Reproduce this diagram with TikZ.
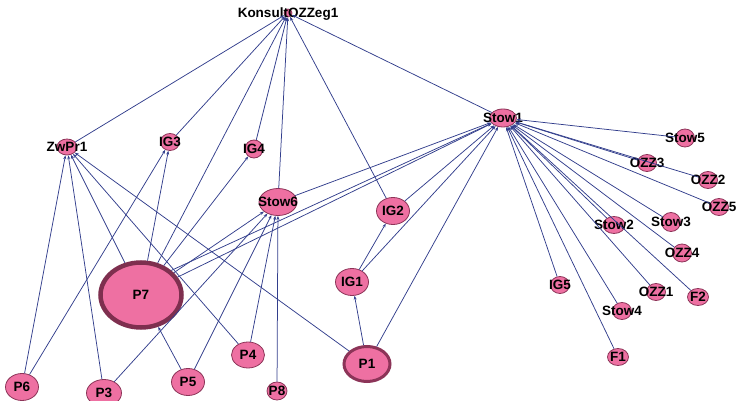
\documentclass[tikz,border=0pt]{standalone}
\usepackage{fontspec}
\setmainfont{Liberation Sans}
\usetikzlibrary{shapes,arrows.meta}
\definecolor{nodepink}{RGB}{238,112,162}
\definecolor{nodeedge}{RGB}{140,52,88}
\definecolor{linkblue}{RGB}{50,62,140}
\newcommand{\lab}[1]{\smash{\makebox[0pt]{\raisebox{-0.36em}{#1}}}}

\begin{document}
\begin{tikzpicture}[
      x=1pt,y=-1pt,
      font=\bfseries\fontsize{13.5}{13.5}\selectfont,
      vert/.style = {ellipse,draw=nodeedge,fill=nodepink,inner sep=0pt,line width=0.8pt},
      small/.style = {vert,minimum width=19pt,minimum height=17pt},
      mid/.style = {vert,minimum width=33pt,minimum height=27pt},
      link/.style = {-{Stealth[length=4pt,width=3pt]},draw=linkblue,line width=0.75pt}
    ]
      \useasboundingbox (0,0) rectangle (737,401);
      % top and left part
      \node (konsult)[vert,minimum size=8pt] at (288,13){\lab{KonsultOZZeg1}};
      \node (zwpr1)[small,minimum width=20pt,minimum height=16pt] at (67,147){\lab{ZwPr1}};
      \node (ig3)[small] at (170,142){\lab{IG3}};
      \node (ig4)[small,minimum width=18pt,minimum height=18pt] at (254,149){\lab{IG4}};
      \node (stow6)[mid,minimum width=38pt] at (278,202){\lab{Stow6}};
      \node (ig2)[mid] at (393,211){\lab{IG2}};
      \node (ig1)[mid] at (352,282){\lab{IG1}};
      \node (p7)[vert,line width=4.5pt,draw=nodeedge!90!black,minimum width=81pt,minimum height=65pt] at (141,295){\lab{P7}};
      \node (p4)[mid,minimum height=26pt] at (248,355){\lab{P4}};
      \node (p1)[vert,line width=3pt,minimum width=46pt,minimum height=35pt] at (367,364){\lab{P1}};
      \node (p6)[mid] at (22,387){\lab{P6}};
      \node (p3)[mid,minimum width=35pt] at (104,393){\lab{P3}};
      \node (p5)[mid] at (188,382){\lab{P5}};
      \node (p8)[small,minimum width=20pt,minimum height=18pt] at (277,391){\lab{P8}};
      % right part
      \node (stow1)[small,minimum width=27pt,minimum height=18pt] at (503,118){\lab{Stow1}};
      \node (stow5)[small,minimum height=18pt] at (685,138){\lab{Stow5}};
      \node (ozz3)[small] at (647,163){\lab{OZZ3}};
      \node (ozz2)[small] at (708,180){\lab{OZZ2}};
      \node (ozz5)[small] at (719,207){\lab{OZZ5}};
      \node (stow3)[small,minimum height=19pt] at (671,222){\lab{Stow3}};
      \node (stow2)[small,minimum width=22pt] at (614,225){\lab{Stow2}};
      \node (ozz4)[small,minimum height=18pt] at (682,253){\lab{OZZ4}};
      \node (ig5)[small] at (560,285){\lab{IG5}};
      \node (ozz1)[small] at (656,292){\lab{OZZ1}};
      \node (f2)[small,minimum width=21pt] at (698,297){\lab{F2}};
      \node (stow4)[small] at (622,311){\lab{Stow4}};
      \node (f1)[small,minimum width=21pt] at (618,357){\lab{F1}};
      % links to KonsultOZZeg1
      \draw [link] (zwpr1) -- (konsult);
      \draw [link] (ig3) -- (konsult);
      \draw [link] (p7) -- (konsult);
      \draw [link] (ig4) -- (konsult);
      \draw [link] (stow6) -- (konsult);
      \draw [link] (ig2) -- (konsult);
      \draw [link] (stow1) -- (konsult);
      % links to ZwPr1, IG3, IG4
      \draw [link] (p6) -- (zwpr1);
      \draw [link] (p3) -- (zwpr1);
      \draw [link] (p7) -- (zwpr1);
      \draw [link] (p4) -- (zwpr1);
      \draw [link] (p1) -- (zwpr1);
      \draw [link] (p6) -- (ig3);
      \draw [link] (p7) -- (ig3);
      \draw [link] (p7) -- (ig4);
      % links to Stow6 and P7
      \draw [link] (p7) -- (stow6);
      \draw [link] (p3) -- (stow6);
      \draw [link] (p5) -- (stow6);
      \draw [link] (p4) -- (stow6);
      \draw [link] (p8) -- (stow6);
      \draw [link] (p5) -- (p7);
      % IG1, IG2, P1
      \draw [link] (p1) -- (ig1);
      \draw [link] (ig1) -- (ig2);
      % links to Stow1
      \draw [link] (p7) -- (stow1);
      \draw [link] (p7.north east) -- (stow1);
      \draw [link] (stow6) -- (stow1);
      \draw [link] (ig2) -- (stow1);
      \draw [link] (ig1) -- (stow1);
      \draw [link] (p1) -- (stow1);
      \draw [link] (stow5) -- (stow1);
      \draw [link] (ozz3) -- (stow1);
      \draw [link] (ozz2) -- (stow1);
      \draw [link] (ozz5) -- (stow1);
      \draw [link] (stow3) -- (stow1);
      \draw [link] (stow2) -- (stow1);
      \draw [link] (ozz4) -- (stow1);
      \draw [link] (ig5) -- (stow1);
      \draw [link] (ozz1) -- (stow1);
      \draw [link] (f2) -- (stow1);
      \draw [link] (stow4) -- (stow1);
      \draw [link] (f1) -- (stow1);
    \end{tikzpicture}
\end{document}
